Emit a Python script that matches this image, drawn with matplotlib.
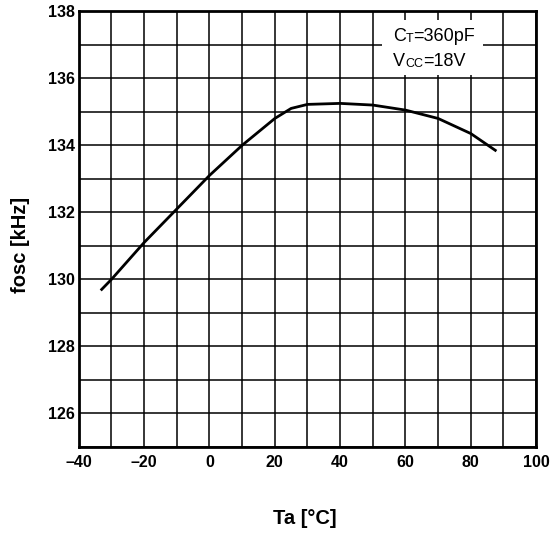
import matplotlib
matplotlib.use("Agg")
import matplotlib.pyplot as plt
import numpy as np

# temperature sweep and oscillator frequency
ta = [-33, -30, -20, -10, 0, 10, 20, 25, 30, 40, 50, 60, 70, 80, 87.5]
fosc = [129.7, 130.0, 131.1, 132.1, 133.1, 134.0, 134.8, 135.1, 135.22, 135.25,
        135.2, 135.05, 134.8, 134.35, 133.85]

x_ticks = [-40, -20, 0, 20, 40, 60, 80, 100]
y_ticks = [126, 128, 130, 132, 134, 136, 138]

plt.rcParams["font.family"] = ["Liberation Sans", "DejaVu Sans"]

fig = plt.figure(figsize=(5.55, 5.34), dpi=100)
ax = fig.add_axes([0.142, 0.163, 0.824, 0.816])

ax.plot(ta, fosc, color="black", lw=2, zorder=3)

ax.set_xlim(-40, 100)
ax.set_ylim(125, 138)
ax.set_xticks(x_ticks)
ax.set_xticklabels([str(v).replace("-", "\u2013") for v in x_ticks])
ax.set_yticks(y_ticks)
ax.set_xticks(np.arange(-40, 101, 10), minor=True)
ax.set_yticks(np.arange(125, 139, 1), minor=True)
ax.grid(True, which="both", color="black", lw=1.1)
ax.tick_params(which="both", length=0, labelsize=11.5)
ax.tick_params(axis="y", pad=3)
ax.tick_params(axis="x", pad=6)
for lab in ax.get_xticklabels() + ax.get_yticklabels():
    lab.set_fontweight("bold")
for s in ax.spines.values():
    s.set_linewidth(2)

ax.set_xlabel("Ta [°C]", fontsize=14.5, fontweight="bold")
ax.xaxis.set_label_coords(0.495, -0.143)
ax.set_ylabel("fosc [kHz]", fontsize=14.5, fontweight="bold")
ax.yaxis.set_label_coords(-0.107, 0.463)

# condition box: C_T and V_CC with small-cap subscripts
ax.add_patch(plt.Rectangle((0.663, 0.853), 0.221, 0.126, transform=ax.transAxes,
                           facecolor="white", edgecolor="none", zorder=4))
t1 = ax.text(0.687, 0.922, "C", transform=ax.transAxes, fontsize=13,
             va="bottom", ha="left", zorder=5)
t2 = ax.annotate("T", xy=(1, 0), xycoords=t1, fontsize=9, va="bottom", zorder=6)
ax.annotate("=360pF", xy=(1, 0), xycoords=t2, fontsize=13, va="bottom", zorder=6)
t3 = ax.text(0.687, 0.866, "V", transform=ax.transAxes, fontsize=13,
             va="bottom", ha="left", zorder=5)
t4 = ax.annotate("CC", xy=(1, 0), xycoords=t3, fontsize=9, va="bottom", zorder=6)
ax.annotate("=18V", xy=(1, 0), xycoords=t4, fontsize=13, va="bottom", zorder=6)

fig.savefig("out.png", dpi=100)
